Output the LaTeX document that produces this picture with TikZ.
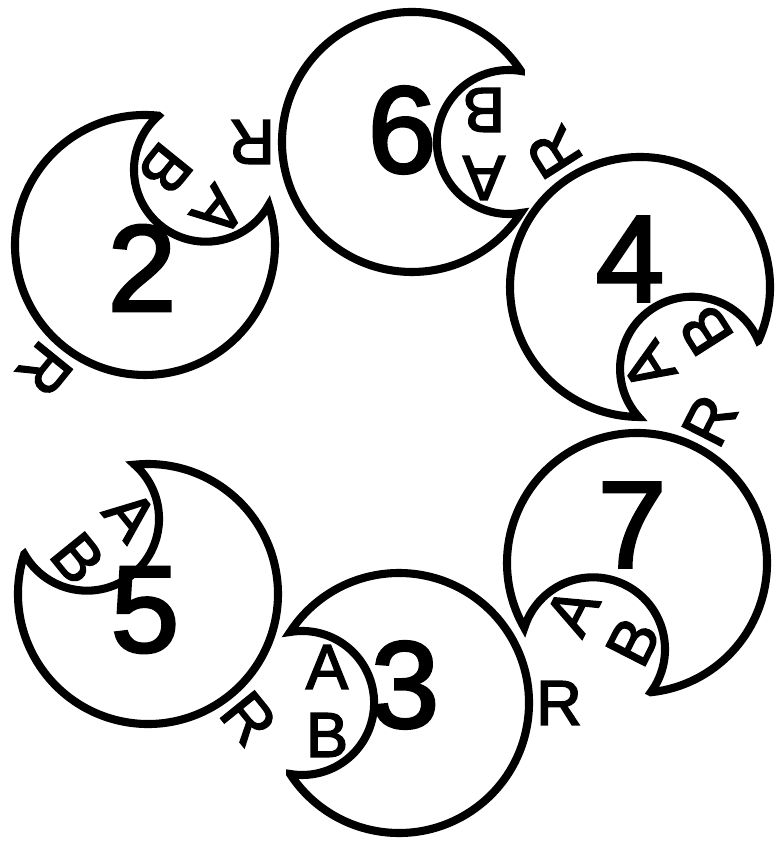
\documentclass[tikz,border=0pt]{standalone}
\usepackage{fontspec}
\setmainfont{Liberation Sans}
\newfontfamily\labelfont[FakeBold=2.5]{Liberation Sans}

\begin{document}
\begin{tikzpicture}[x=0.02cm, y=0.02cm,
    outline/.style={draw, line width=4.6pt, line join=miter},
    number/.style={inner sep=0pt, font=\labelfont\fontsize{70}{70}\selectfont},
    letter/.style={inner sep=0pt, font=\labelfont\fontsize{36}{36}\selectfont},
    moon/.pic={\draw[outline] (33.1:130) arc[start angle=33.1, end angle=326.9, radius=130]
        arc[start angle=-80.4, end angle=-279.6, radius=72] -- cycle;}
]
\useasboundingbox (0,0) rectangle (774,841);

% Unit 2
\begin{scope}[shift={(145,596)}, rotate=51]
  \pic[transform shape] {moon};
  \node[letter, rotate=231] (a2) at (72,-36) {A};
  \node[letter, rotate=231] (b2) at (72,32) {B};
  \node[letter, rotate=231] (r2) at (-160,0) {R};
\end{scope}
\node[number] (n2) at (142,573) {2};

% Unit 6
\begin{scope}[shift={(412,699)}, rotate=0]
  \pic[transform shape] {moon};
  \node[letter, rotate=180] (a6) at (72,-36) {A};
  \node[letter, rotate=180] (b6) at (72,32) {B};
  \node[letter, rotate=180] (r6) at (-160,0) {R};
\end{scope}
\node[number] (n6) at (402,711) {6};

% Unit 4
\begin{scope}[shift={(640,554)}, rotate=-57.5]
  \pic[transform shape] {moon};
  \node[letter, rotate=122.5] (a4) at (72,-36) {A};
  \node[letter, rotate=122.5] (b4) at (72,32) {B};
  \node[letter, rotate=122.5] (r4) at (-160,0) {R};
\end{scope}
\node[number] (n4) at (630,582) {4};

% Unit 7
\begin{scope}[shift={(637,278)}, rotate=-117]
  \pic[transform shape] {moon};
  \node[letter, rotate=63] (a7) at (72,-36) {A};
  \node[letter, rotate=63] (b7) at (72,32) {B};
  \node[letter, rotate=63] (r7) at (-160,0) {R};
\end{scope}
\node[number] (n7) at (632,316) {7};

% Unit 3
\begin{scope}[shift={(399,138)}, rotate=180]
  \pic[transform shape] {moon};
  \node[letter] (a3) at (72,-36) {A};
  \node[letter] (b3) at (72,32) {B};
  \node[letter] (r3) at (-160,0) {R};
\end{scope}
\node[number] (n3) at (405,156) {3};

% Unit 5
\begin{scope}[shift={(148,247)}, rotate=129]
  \pic[transform shape] {moon};
  \node[letter, rotate=309] (a5) at (72,-36) {A};
  \node[letter, rotate=309] (b5) at (72,32) {B};
  \node[letter, rotate=309] (r5) at (-160,0) {R};
\end{scope}
\node[number] (n5) at (145,231) {5};

\end{tikzpicture}
\end{document}
